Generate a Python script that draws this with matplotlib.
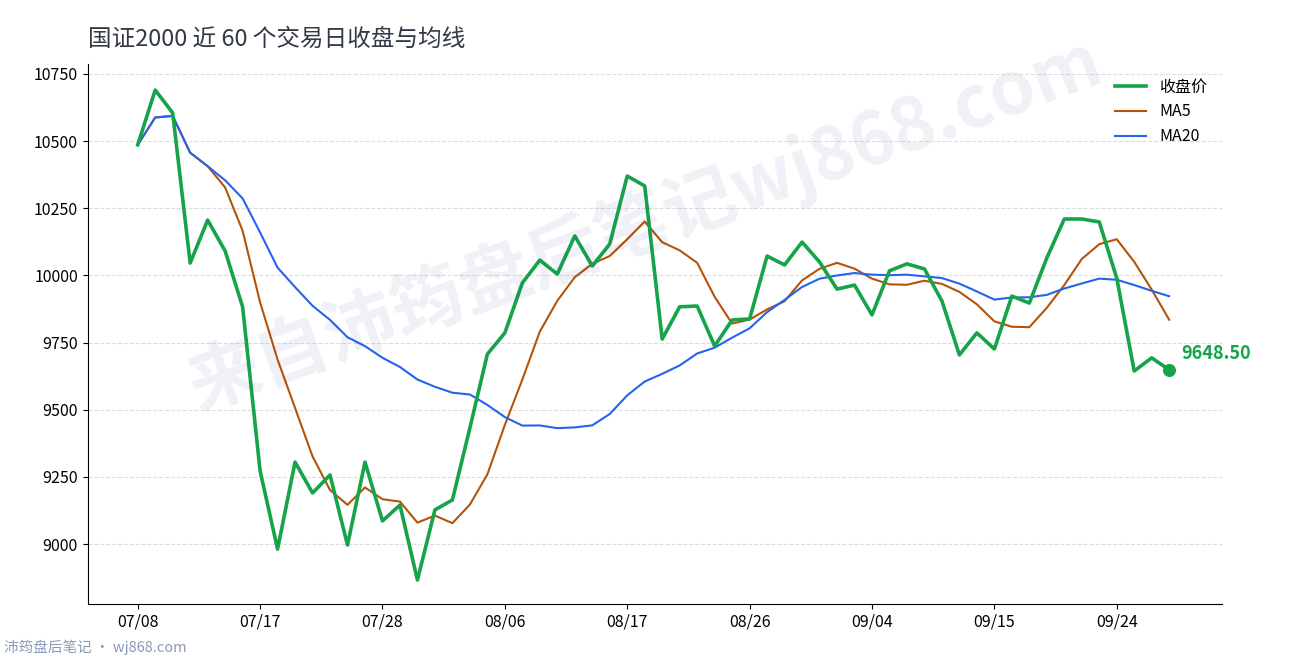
import numpy as np
import pandas as pd
import matplotlib.pyplot as plt

plt.rcParams['font.family'] = ['Noto Sans CJK SC', 'DejaVu Sans']

# 收盘价
close = [10486, 10690, 10605, 10046, 10206, 10091, 9883, 9272, 8981, 9305,
         9190, 9257, 8996, 9305, 9086, 9145, 8866, 9127, 9164, 9432,
         9707, 9786, 9972, 10057, 10005, 10147, 10035, 10117, 10370, 10333,
         9763, 9883, 9886, 9737, 9834, 9838, 10072, 10039, 10124, 10050,
         9949, 9964, 9853, 10017, 10043, 10024, 9905, 9704, 9786, 9726,
         9923, 9897, 10065, 10210, 10210, 10199, 9990, 9644, 9693, 9648.50]
tick_pos = [0, 7, 14, 21, 28, 35, 42, 49, 56]
tick_labels = ['07/08', '07/17', '07/28', '08/06', '08/17', '08/26', '09/04', '09/15', '09/24']

s = pd.Series(close)
ma5 = s.rolling(5, min_periods=1).mean()
ma20 = s.rolling(20, min_periods=1).mean()
x = np.arange(len(close))

fig = plt.figure(figsize=(12.9, 6.6), dpi=100)
ax = fig.add_axes([0.068, 0.085, 0.879, 0.818])

ax.plot(x, close, color='#16a34a', lw=2.6, label='收盘价', zorder=3)
ax.plot(x, ma5, color='#b45309', lw=1.5, label='MA5', zorder=2)
ax.plot(x, ma20, color='#2563eb', lw=1.5, label='MA20', zorder=2)
ax.scatter([x[-1]], [close[-1]], s=70, color='#16a34a', zorder=4)
ax.annotate(f'{close[-1]:.2f}', (x[-1], close[-1]), xytext=(9, 5),
            textcoords='offset points', color='#16a34a', fontsize=13,
            fontweight='bold', va='bottom')

ax.set_xlim(-2.86, 62)
ax.set_ylim(8777, 10787)
ax.set_yticks([9000, 9250, 9500, 9750, 10000, 10250, 10500, 10750])
ax.set_xticks(tick_pos)
ax.set_xticklabels(tick_labels)
ax.tick_params(labelsize=11.5)
ax.grid(axis='y', ls='--', color='#dddddd', lw=0.8)
ax.set_axisbelow(True)
for sp in ['top', 'right']:
    ax.spines[sp].set_visible(False)

ax.legend(loc='upper right', frameon=False, fontsize=11.5)
fig.text(0.068, 0.93, '国证2000 近 60 个交易日收盘与均线', fontsize=17, color='#333a45',
         fontweight='medium')
fig.text(0.5, 0.66, '来自沛筠盘后笔记wj868.com', fontsize=52, color='#1e3a8a',
         alpha=0.07, rotation=20, ha='center', va='center', fontweight='bold')
fig.text(0.003, 0.012, '沛筠盘后笔记 · wj868.com', fontsize=10.5, color='#8a9bb5')

fig.savefig('out.png', dpi=100)
